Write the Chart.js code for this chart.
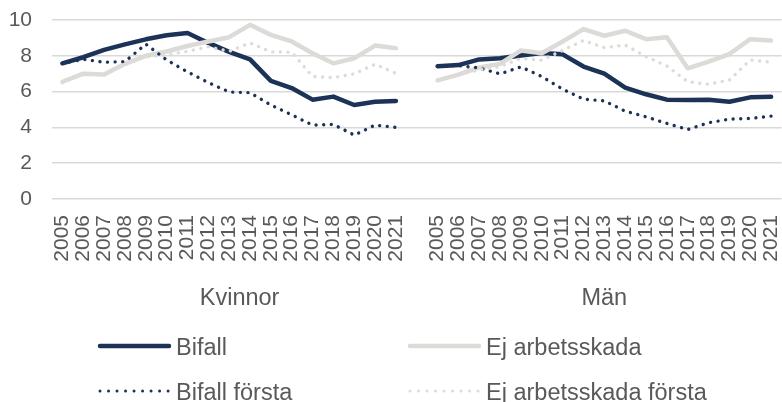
<!DOCTYPE html>
<html>
<head>
<meta charset="utf-8">
<script src="https://cdn.jsdelivr.net/npm/chart.js@4/dist/chart.umd.min.js"></script>
<style>
  html, body { margin: 0; padding: 0; background: #ffffff; }
  #wrap { width: 782px; height: 402px; }
</style>
</head>
<body>
<div id="wrap"><canvas id="c" width="782" height="402"></canvas></div>
<script>
// Years shown for each group on the x axis
const years = ['2005','2006','2007','2008','2009','2010','2011','2012','2013',
               '2014','2015','2016','2017','2018','2019','2020','2021'];
const groups = ['Kvinnor', 'Män'];

// Kvinnor
const kvinnorBifall       = [7.58, 7.92, 8.33, 8.64, 8.92, 9.15, 9.27, 8.72, 8.22, 7.80, 6.60, 6.20, 5.55, 5.72, 5.25, 5.43, 5.48];
const kvinnorEj           = [6.55, 7.00, 6.95, 7.55, 8.00, 8.24, 8.55, 8.80, 9.04, 9.73, 9.17, 8.80, 8.14, 7.58, 7.86, 8.57, 8.42];
const kvinnorBifallForsta = [7.58, 7.80, 7.64, 7.68, 8.65, 7.77, 7.10, 6.50, 5.98, 5.94, 5.25, 4.70, 4.13, 4.17, 3.57, 4.13, 4.00];
const kvinnorEjForsta     = [6.50, 7.00, 6.95, 7.50, 7.95, 8.05, 8.25, 8.50, 8.25, 8.72, 8.22, 8.20, 6.85, 6.78, 6.99, 7.53, 7.02];

// Män
const manBifall           = [7.42, 7.48, 7.80, 7.86, 8.02, 8.15, 8.08, 7.40, 7.00, 6.22, 5.85, 5.55, 5.53, 5.55, 5.43, 5.68, 5.71];
const manEj               = [6.63, 6.95, 7.35, 7.55, 8.30, 8.14, 8.80, 9.49, 9.12, 9.40, 8.93, 9.04, 7.30, 7.68, 8.10, 8.93, 8.85];
const manBifallForsta     = [7.42, 7.45, 7.32, 6.99, 7.38, 6.84, 6.14, 5.58, 5.48, 4.91, 4.59, 4.22, 3.88, 4.26, 4.46, 4.50, 4.63];
const manEjForsta         = [6.63, 6.95, 7.21, 7.40, 7.85, 7.75, 8.30, 8.86, 8.45, 8.60, 7.96, 7.43, 6.55, 6.41, 6.65, 7.77, 7.64];

// Category axis: Kvinnor years, one empty slot, Män years
const categories = [...years, '', ...years];
const joinGroups = (a, b) => [...a, null, ...b];

const NAVY = '#1c3257';
const LIGHT = '#dddbd7';
const TEXT = '#595959';
const FONT = '"Liberation Sans", Arial, Helvetica, sans-serif';

const solid = { borderWidth: 4.5, borderCapStyle: 'round', borderJoinStyle: 'round' };
const dotted = { borderWidth: 3.4, borderCapStyle: 'round', borderJoinStyle: 'round', borderDash: [0.01, 7.6] };

const datasets = [
  { label: 'Bifall', data: joinGroups(kvinnorBifall, manBifall), borderColor: NAVY, order: 4, ...solid },
  { label: 'Ej arbetsskada', data: joinGroups(kvinnorEj, manEj), borderColor: LIGHT, order: 3, ...solid },
  { label: 'Bifall första', data: joinGroups(kvinnorBifallForsta, manBifallForsta), borderColor: NAVY, order: 2, ...dotted },
  { label: 'Ej arbetsskada första', data: joinGroups(kvinnorEjForsta, manEjForsta), borderColor: LIGHT, order: 1, ...dotted }
];

// Group captions under the year labels
const groupLabels = {
  id: 'groupLabels',
  afterDraw(chart) {
    const x = chart.scales.x;
    const ctx = chart.ctx;
    const n = years.length;
    const spans = [[0, n], [n + 1, 2 * n]];
    ctx.save();
    ctx.font = '23.5px ' + FONT;
    ctx.fillStyle = TEXT;
    ctx.textAlign = 'center';
    ctx.textBaseline = 'alphabetic';
    spans.forEach((s, i) => {
      const cx = (x.getPixelForValue(s[0]) + x.getPixelForValue(s[1])) / 2;
      ctx.fillText(groups[i], cx, 305);
    });
    ctx.restore();
  }
};

// Two-column legend below the chart
const gridLegend = {
  id: 'gridLegend',
  afterDraw(chart) {
    const ctx = chart.ctx;
    const slots = [
      { ds: 0, x: 98,  y: 346 },
      { ds: 1, x: 408, y: 346 },
      { ds: 2, x: 98,  y: 391 },
      { ds: 3, x: 408, y: 391 }
    ];
    ctx.save();
    slots.forEach(s => {
      const d = chart.data.datasets[s.ds];
      ctx.beginPath();
      ctx.strokeStyle = d.borderColor;
      ctx.lineWidth = d.borderDash ? 3 : 4.5;
      ctx.lineCap = 'round';
      ctx.setLineDash(d.borderDash ? [0.01, 8.5] : []);
      ctx.moveTo(s.x + 2, s.y);
      ctx.lineTo(s.x + 71, s.y);
      ctx.stroke();
      ctx.setLineDash([]);
      ctx.font = '23.5px ' + FONT;
      ctx.fillStyle = TEXT;
      ctx.textAlign = 'left';
      ctx.textBaseline = 'alphabetic';
      ctx.fillText(d.label, s.x + 78, s.y + 9);
    });
    ctx.restore();
  }
};

new Chart(document.getElementById('c'), {
  type: 'line',
  data: { labels: categories, datasets },
  options: {
    responsive: false,
    animation: false,
    devicePixelRatio: 1,
    layout: { padding: { top: 20, right: 0.5, left: 0, bottom: 0 } },
    elements: { point: { radius: 0 }, line: { tension: 0 } },
    plugins: { legend: { display: false }, tooltip: { enabled: false } },
    scales: {
      x: {
        type: 'category',
        offset: true,
        grid: { display: false, drawTicks: false },
        border: { display: false },
        ticks: {
          autoSkip: false, minRotation: 90, maxRotation: 90,
          color: TEXT, padding: 16,
          font: { family: FONT, size: 21 }
        },
        afterFit(scale) {
          scale.height = 203;
          scale.paddingLeft = 0;
          scale.paddingRight = 0;
        }
      },
      y: {
        min: 0, max: 10,
        grid: { color: '#d9d9d9', lineWidth: 1.5, drawTicks: false },
        border: { display: false },
        ticks: {
          stepSize: 2, color: TEXT, padding: 20,
          font: { family: FONT, size: 21 }
        },
        afterFit(scale) {
          scale.width = 52;
          scale.paddingTop = 0;
          scale.paddingBottom = 0;
        }
      }
    }
  },
  plugins: [groupLabels, gridLegend]
});
</script>
</body>
</html>
